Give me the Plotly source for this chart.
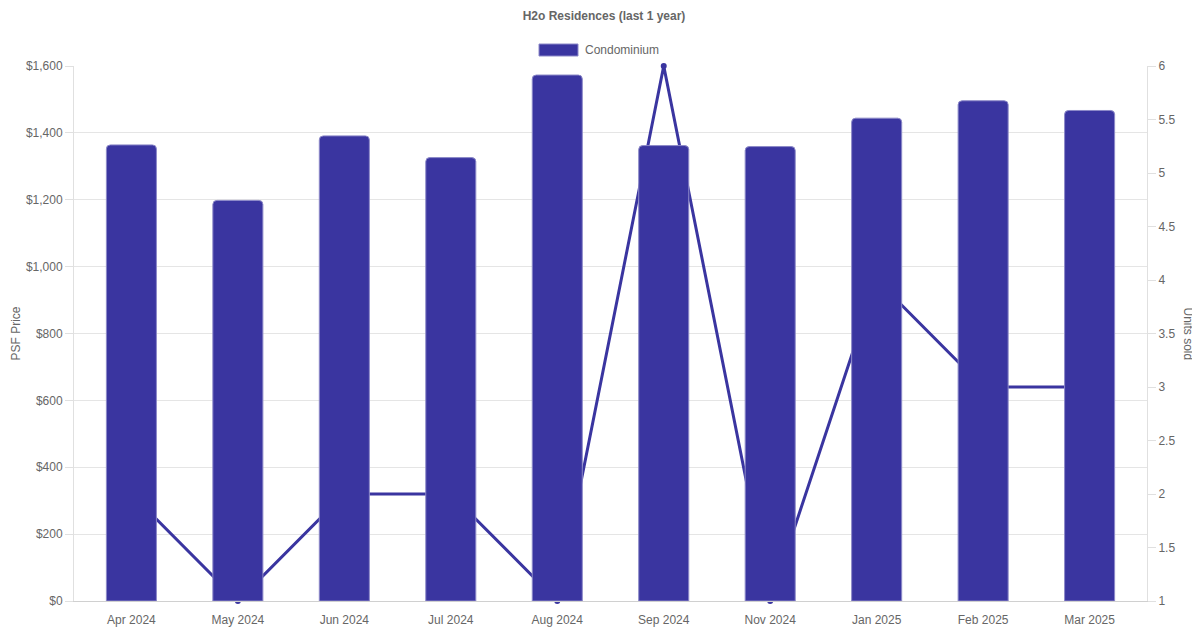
import plotly.graph_objects as go

# Data
months = ["Apr 2024", "May 2024", "Jun 2024", "Jul 2024", "Aug 2024",
          "Sep 2024", "Nov 2024", "Jan 2025", "Feb 2025", "Mar 2025"]
psf_price = [1364, 1198, 1391, 1326, 1573, 1362, 1359, 1444, 1496, 1467]
units_sold = [2, 1, 2, 2, 1, 6, 1, 4, 3, 3]

COLOR = "#3a35a0"
FONT = "Liberation Sans, Arial, sans-serif"
GREY = "#666666"

# page body adds an 8px offset, so the figure is 8px smaller each way
W, H = 1192, 622

fig = go.Figure()

# units sold line sits on the primary axis so the bars draw over it
fig.add_trace(go.Scatter(
    x=months, y=units_sold, mode="lines+markers",
    line=dict(color=COLOR, width=3),
    marker=dict(color=COLOR, size=6),
    yaxis="y", showlegend=False, cliponaxis=False,
))

fig.add_trace(go.Bar(
    x=months, y=psf_price, name="Condominium",
    marker=dict(color=COLOR, line=dict(color="#8c89c8", width=1)),
    width=0.47, yaxis="y2", showlegend=False,
))

# chart.js style legend: wide box + label, drawn by hand
fig.add_shape(type="rect", xref="paper", yref="paper",
              x0=465 / 1073, x1=504 / 1073, y0=1 + 10 / 535, y1=1 + 22 / 535,
              fillcolor=COLOR, line=dict(color="#8c89c8", width=1))

fig.update_layout(
    width=W, height=H,
    margin=dict(l=66, r=53, t=58, b=29),
    paper_bgcolor="white", plot_bgcolor="white",
    font=dict(family=FONT, size=12, color=GREY),
    barcornerradius=4,
    title=dict(text="<b>H2o Residences (last 1 year)</b>", x=0.5, xanchor="center",
               yref="container", y=1 - 8 / H, yanchor="middle",
               pad=dict(t=0, b=0), font=dict(size=12, color=GREY)),
    xaxis=dict(showgrid=False, showline=True, linecolor="#d0d0d0", automargin=False,
               ticks="outside", ticklen=8, tickcolor="rgba(0,0,0,0)",
               tickfont=dict(size=12, color=GREY)),
    yaxis=dict(side="right", range=[1, 6], dtick=0.5, showgrid=False, automargin=False,
               showline=True, linecolor="#e0e0e0", ticks="outside", ticklen=8,
               tickcolor="#e0e0e0", zeroline=False,
               tickfont=dict(size=12, color=GREY)),
    yaxis2=dict(side="left", overlaying="y", range=[0, 1600], dtick=200, automargin=False,
                tickprefix="$", tickformat=",d", showgrid=True, gridcolor="#e5e5e5",
                showline=True, linecolor="#e0e0e0", ticks="outside", ticklen=8,
                tickcolor="#e0e0e0", zeroline=False,
                tickfont=dict(size=12, color=GREY)),
    annotations=[
        dict(text="Condominium", xref="paper", yref="paper",
             x=509 / 1073, y=1 + 16 / 535, xanchor="left", yanchor="middle",
             showarrow=False, font=dict(size=12, color=GREY)),
        dict(text="PSF Price", textangle=-90, xref="paper", yref="paper",
             x=-59 / 1073, y=0.5, xanchor="center", yanchor="middle",
             showarrow=False, font=dict(size=12, color=GREY)),
        dict(text="Units sold", textangle=90, xref="paper", yref="paper",
             x=1 + 41 / 1073, y=0.5, xanchor="center", yanchor="middle",
             showarrow=False, font=dict(size=12, color=GREY)),
    ],
)

fig.write_html("out.html")
